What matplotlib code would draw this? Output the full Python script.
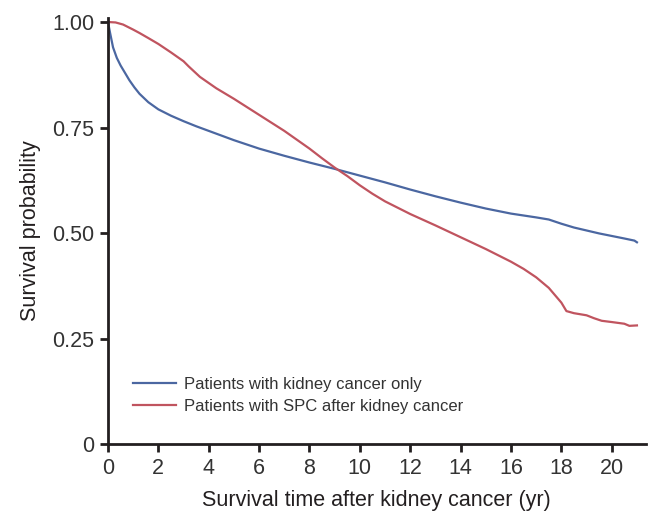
import matplotlib.pyplot as plt
import matplotlib.font_manager as fm

# survival curves
t_only = [0, 0.08, 0.2, 0.35, 0.5, 0.7, 0.85, 1.05, 1.25, 1.6, 2, 2.5, 3, 3.5, 4, 5,
          6, 7, 8, 9, 10, 11, 12, 13, 14, 15, 16, 17, 17.5, 18, 18.5, 19, 19.5, 20,
          20.5, 20.9, 21]
s_only = [1.0, 0.975, 0.94, 0.915, 0.897, 0.877, 0.862, 0.845, 0.83, 0.81, 0.793,
          0.778, 0.765, 0.753, 0.742, 0.72, 0.70, 0.683, 0.667, 0.652, 0.636, 0.62,
          0.603, 0.587, 0.572, 0.558, 0.546, 0.537, 0.532, 0.522, 0.513, 0.506,
          0.499, 0.493, 0.487, 0.482, 0.478]

t_spc = [0, 0.3, 0.6, 1, 1.25, 1.6, 2, 2.5, 3, 3.2, 3.65, 4.3, 5, 6, 7, 8, 8.5, 9,
         9.5, 10, 10.5, 11, 12, 13, 14, 15, 16, 16.5, 17, 17.5, 18, 18.2, 18.5, 19,
         19.3, 19.6, 20, 20.5, 20.7, 21]
s_spc = [1.0, 0.999, 0.994, 0.982, 0.974, 0.962, 0.948, 0.928, 0.907, 0.895, 0.87,
         0.843, 0.818, 0.78, 0.742, 0.70, 0.677, 0.655, 0.635, 0.613, 0.593, 0.575,
         0.545, 0.518, 0.49, 0.462, 0.432, 0.415, 0.395, 0.37, 0.335, 0.315, 0.31,
         0.305, 0.298, 0.292, 0.289, 0.285, 0.28, 0.281]

labels = ['Patients with kidney cancer only', 'Patients with SPC after kidney cancer']
x_ticks = [0, 2, 4, 6, 8, 10, 12, 14, 16, 18, 20]
y_ticks = [0, 0.25, 0.5, 0.75, 1.0]
y_ticklabels = ['0', '0.25', '0.50', '0.75', '1.00']

names = {f.name for f in fm.fontManager.ttflist}
narrow = 'Liberation Sans Narrow' if 'Liberation Sans Narrow' in names else 'Liberation Sans'
plt.rcParams['font.family'] = [narrow, 'DejaVu Sans']

fig = plt.figure(figsize=(6.49, 5.13), dpi=100)
ax = fig.add_axes([0.1664, 0.1345, 0.8286, 0.8308])

ax.plot(t_only, s_only, color='#4b67a1', linewidth=1.6, label=labels[0])
ax.plot(t_spc, s_spc, color='#c0545f', linewidth=1.6, label=labels[1])

ax.set_xlim(0, 21.35)
ax.set_ylim(0, 1.01)
ax.set_xticks(x_ticks)
ax.set_yticks(y_ticks)
ax.set_yticklabels(y_ticklabels)

for side in ['top', 'right']:
    ax.spines[side].set_visible(False)
for side in ['left', 'bottom']:
    ax.spines[side].set_linewidth(2)
    ax.spines[side].set_color('#231f20')
ax.tick_params(width=2, length=6, labelsize=15.5, color='#231f20', labelcolor='#333333', pad=4)

ax.set_xlabel('Survival time after kidney cancer (yr)', fontsize=15.5, color='#231f20', labelpad=8)
ax.set_ylabel('Survival probability', fontsize=15.5, color='#231f20', labelpad=8)

ax.legend(loc='lower left', bbox_to_anchor=(0.018, 0.035), frameon=False, fontsize=12,
          handlelength=2.6, handletextpad=0.5, labelspacing=0.45, labelcolor='#333333')

plt.savefig('out.png', dpi=100)
